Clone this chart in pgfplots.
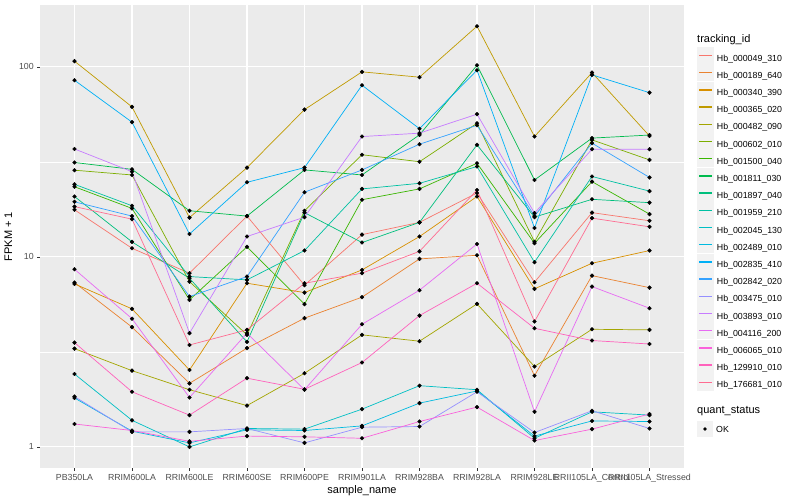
\documentclass[border=0pt]{standalone}
\usepackage{fontspec}
\setmainfont{Liberation Sans}
\usepackage{pgfplots}
\usepackage{pgfplotstable}
\pgfplotsset{compat=1.18}

\definecolor{hA}{HTML}{F8766D}
\definecolor{hB}{HTML}{EA8331}
\definecolor{hC}{HTML}{D89000}
\definecolor{hD}{HTML}{C09B00}
\definecolor{hE}{HTML}{A3A500}
\definecolor{hF}{HTML}{7CAE00}
\definecolor{hG}{HTML}{39B600}
\definecolor{hH}{HTML}{00BB4E}
\definecolor{hI}{HTML}{00BF7D}
\definecolor{hJ}{HTML}{00C1A3}
\definecolor{hK}{HTML}{00BFC4}
\definecolor{hL}{HTML}{00BAE0}
\definecolor{hM}{HTML}{00B0F6}
\definecolor{hN}{HTML}{35A2FF}
\definecolor{hO}{HTML}{9590FF}
\definecolor{hP}{HTML}{C77CFF}
\definecolor{hQ}{HTML}{E76BF3}
\definecolor{hR}{HTML}{FA62DB}
\definecolor{hS}{HTML}{FF62BC}
\definecolor{hT}{HTML}{FF6C91}
\definecolor{panel}{HTML}{EBEBEB}
\definecolor{keybg}{HTML}{F2F2F2}
\definecolor{txt}{HTML}{4D4D4D}
\definecolor{tck}{HTML}{333333}

% FPKM + 1, one row per sample, one column per tracking_id
\pgfplotstableread{
x  s1   s2   s3   s4    s5   s6   s7   s8   s9   s10  s11  s12  s13  s14  s15  s16  s17  s18  s19  s20
0  17.7 7.33 7.21 107.2 3.29 28.6 23.4 31.4 20.8 24.1 2.42 1.81 85.1 19.5 1.84 37.0 8.61 1.32 3.54 18.4
1  11.1 4.27 5.33 61.6  2.52 27.0 18.0 28.9 12.0 18.6 1.38 1.21 51.2 16.4 1.20 28.1 4.73 1.22 1.95 15.8
2  8.21 2.16 2.54 16.1  2.00 7.41 5.94 17.5 7.72 7.88 1.00 1.05 13.2 6.18 1.20 3.97 1.82 1.07 1.47 3.44
3  16.4 3.31 7.27 29.5  1.65 3.89 11.3 16.4 3.57 7.57 1.25 1.23 24.7 7.88 1.25 12.8 3.97 1.14 2.30 4.13
4  7.10 4.76 6.49 59.6  2.44 17.5 5.64 28.7 17.1 10.8 1.24 1.22 29.5 21.9 1.05 16.2 2.00 1.13 2.01 7.27
5  13.1 6.14 8.54 94.2  3.89 34.5 20.0 27.0 11.9 22.8 1.58 1.29 80.1 28.7 1.27 43.0 4.42 1.11 2.78 8.21
6  15.2 9.76 12.8 88.3  3.60 31.7 22.8 43.9 15.2 24.4 2.10 1.70 47.3 39.2 1.28 44.8 6.68 1.36 4.91 10.7
7  21.7 10.2 20.8 163.8 5.66 50.5 31.1 102  38.9 29.9 2.00 1.97 96.1 49.3 1.95 56.4 11.7 1.62 7.27 22.5
8  7.36 2.37 6.79 43.0  2.65 12.0 11.8 25.4 16.2 9.38 1.11 1.14 14.2 16.4 1.19 17.0 1.53 1.08 4.21 4.57
9  17.1 7.97 9.26 93.3  4.16 41.3 24.9 42.2 20.1 26.5 1.53 1.37 90.8 39.7 1.55 36.9 6.98 1.24 3.63 16.0
10 15.5 6.89 10.8 43.3  4.13 32.4 16.8 43.8 19.3 22.2 1.47 1.36 73.2 26.2 1.25 36.9 5.37 1.49 3.48 14.4
}\data

\pgfplotsset{
  gg/.style={line width=0.7pt, draw=#1, color=#1},
  legend image code/.code={
    \fill[keybg] (0pt,-4.9pt) rectangle (16pt,11.1pt);
    \draw[#1, mark=none, line width=1.5pt] (1.5pt,3.1pt) -- (14.5pt,3.1pt);
  },
  dots/.style={only marks, mark=*, mark size=1.9pt, black, forget plot},
}

\begin{document}
\begin{tikzpicture}
\useasboundingbox (0,0) rectangle (800pt,500pt);
\begin{axis}[
  at={(40pt,32pt)}, anchor=south west,
  scale only axis, width=644pt, height=463pt,
  ymode=log, ymin=0.7745, ymax=211.8,
  xmin=-0.6, xmax=10.6,
  axis background/.style={fill=panel},
  axis line style={draw=none},
  xtick={0,...,10},
  xticklabels={PB350LA, RRIM600LA, RRIM600LE, RRIM600SE, RRIM600PE, RRIM901LA,
    RRIM928BA, RRIM928LA, RRIM928LE, RRII105LA\_Control, RRII105LA\_Stressed},
  ytick={1,10,100}, yticklabels={1,10,100},
  minor ytick={3.1623,31.623},
  xmajorgrids, ymajorgrids, yminorgrids,
  major grid style={white, line width=1.07pt},
  minor grid style={white, line width=0.53pt},
  tick align=outside, xtick pos=bottom, ytick pos=left,
  major tick length=2.75pt, minor tick length=0pt,
  tick style={tck, line width=0.53pt},
  ticklabel style={text=txt, font=\fontsize{8.8}{10}\selectfont},
  /pgf/number format/assume math mode=true,
  xlabel={sample\_name}, ylabel={FPKM + 1},
  label style={font=\fontsize{11}{13}\selectfont},
  xlabel style={yshift=4pt},
  legend style={at={(axis description cs:1,1)}, anchor=north west,
    xshift=13pt, yshift=-42pt, draw=none, fill=none, inner sep=0pt,
    row sep=0.5pt, font=\fontsize{8.8}{10}\selectfont,
    nodes={inner xsep=3pt, inner ysep=0pt}},
  legend cell align=left,
]
\addplot[gg=hA] table[x=x, y=s1] {\data}; \addlegendentry{Hb\_000049\_310}
\addplot[gg=hB] table[x=x, y=s2] {\data}; \addlegendentry{Hb\_000189\_640}
\addplot[gg=hC] table[x=x, y=s3] {\data}; \addlegendentry{Hb\_000340\_390}
\addplot[gg=hD] table[x=x, y=s4] {\data}; \addlegendentry{Hb\_000365\_020}
\addplot[gg=hE] table[x=x, y=s5] {\data}; \addlegendentry{Hb\_000482\_090}
\addplot[gg=hF] table[x=x, y=s6] {\data}; \addlegendentry{Hb\_000602\_010}
\addplot[gg=hG] table[x=x, y=s7] {\data}; \addlegendentry{Hb\_001500\_040}
\addplot[gg=hH] table[x=x, y=s8] {\data}; \addlegendentry{Hb\_001811\_030}
\addplot[gg=hI] table[x=x, y=s9] {\data}; \addlegendentry{Hb\_001897\_040}
\addplot[gg=hJ] table[x=x, y=s10] {\data}; \addlegendentry{Hb\_001959\_210}
\addplot[gg=hK] table[x=x, y=s11] {\data}; \addlegendentry{Hb\_002045\_130}
\addplot[gg=hL] table[x=x, y=s12] {\data}; \addlegendentry{Hb\_002489\_010}
\addplot[gg=hM] table[x=x, y=s13] {\data}; \addlegendentry{Hb\_002835\_410}
\addplot[gg=hN] table[x=x, y=s14] {\data}; \addlegendentry{Hb\_002842\_020}
\addplot[gg=hO] table[x=x, y=s15] {\data}; \addlegendentry{Hb\_003475\_010}
\addplot[gg=hP] table[x=x, y=s16] {\data}; \addlegendentry{Hb\_003893\_010}
\addplot[gg=hQ] table[x=x, y=s17] {\data}; \addlegendentry{Hb\_004116\_200}
\addplot[gg=hR] table[x=x, y=s18] {\data}; \addlegendentry{Hb\_006065\_010}
\addplot[gg=hS] table[x=x, y=s19] {\data}; \addlegendentry{Hb\_129910\_010}
\addplot[gg=hT] table[x=x, y=s20] {\data}; \addlegendentry{Hb\_176681\_010}
\pgfplotsinvokeforeach{1,...,20}{
  \addplot[dots] table[x=x, y=s#1] {\data};
}
\end{axis}
\node[anchor=west, font=\fontsize{11}{13}\selectfont, inner sep=0pt] at (697pt,460pt) {tracking\_id};
\node[anchor=west, font=\fontsize{11}{13}\selectfont, inner sep=0pt] at (697pt,89pt) {quant\_status};
\fill[keybg] (697pt,63pt) rectangle (713pt,79pt);
\fill[black] (705pt,71pt) circle (1.9pt);
\node[anchor=west, font=\fontsize{8.8}{10}\selectfont, inner sep=0pt] at (716pt,71pt) {OK};
\end{tikzpicture}
\end{document}
